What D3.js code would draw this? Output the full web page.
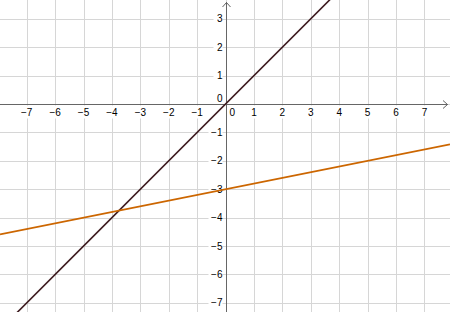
<!DOCTYPE html>
<html><head><meta charset="utf-8">
<script src="https://cdn.jsdelivr.net/npm/d3@7"></script>
<style>html,body{margin:0;padding:0;background:#fff;}svg{display:block;}</style>
</head><body>
<script>
const xTicks = [-7,-6,-5,-4,-3,-2,-1,1,2,3,4,5,6,7];
const yTicks = [-7,-6,-5,-4,-3,-2,-1,1,2,3];
const lineNames = ["f","g"];
const lineSlopes = [1, 0.2];
const lineIntercepts = [0, -3];
const lineColors = ["#3c1a1e", "#cc6600"];

const W = 450, H = 312;
const x = d3.scaleLinear().domain([-7.94, 7.9]).range([0, W]);
const y = d3.scaleLinear().domain([3.66, -7.32]).range([0, H]);
const svg = d3.select("body").append("svg").attr("width", W).attr("height", H);
const fmt = v => v < 0 ? "\u2212" + Math.abs(v) : String(v);
const font = "'Liberation Sans', Arial, sans-serif";

// grid
const gx = d3.range(-7, 8), gy = d3.range(-7, 4);
svg.append("g").selectAll("line").data(gx).join("line")
  .attr("x1", d => Math.round(x(d)) + 0.5).attr("x2", d => Math.round(x(d)) + 0.5)
  .attr("y1", 0).attr("y2", H).attr("stroke", "#d6d6d6").attr("stroke-width", 1);
svg.append("g").selectAll("line").data(gy).join("line")
  .attr("y1", d => Math.round(y(d)) + 0.5).attr("y2", d => Math.round(y(d)) + 0.5)
  .attr("x1", 0).attr("x2", W).attr("stroke", "#d6d6d6").attr("stroke-width", 1);

const X0 = Math.round(x(0)) + 0.5, Y0 = Math.round(y(0)) + 0.5;

// label backgrounds + labels
const lab = svg.append("g").attr("font-family", font).attr("font-size", 10).attr("fill", "#000");
xTicks.forEach(v => {
  const px = x(v);
  const w = fmt(v).length > 1 ? 13 : 8;
  lab.append("rect").attr("x", px - w/2 - 1).attr("y", Y0 + 1).attr("width", w + 2).attr("height", 13).attr("fill", "#fff");
  lab.append("text").attr("x", px).attr("y", Y0 + 11).attr("text-anchor", "middle").text(fmt(v));
});
yTicks.forEach(v => {
  const py = y(v);
  const w = fmt(v).length > 1 ? 13 : 8;
  lab.append("rect").attr("x", X0 - 5 - w).attr("y", py - 6).attr("width", w + 1).attr("height", 12).attr("fill", "#fff");
  lab.append("text").attr("x", X0 - 4).attr("y", py + 3.5).attr("text-anchor", "end").text(fmt(v));
});
lab.append("rect").attr("x", X0 - 11).attr("y", Y0 - 12).attr("width", 9).attr("height", 11).attr("fill", "#fff");
lab.append("text").attr("x", X0 - 4).attr("y", Y0 - 3).attr("text-anchor", "end").text("0");
lab.append("rect").attr("x", X0 + 1).attr("y", Y0 + 1).attr("width", 9).attr("height", 12).attr("fill", "#fff");
lab.append("text").attr("x", X0 + 3).attr("y", Y0 + 11).text("0");

// axes
const ax = svg.append("g").attr("stroke", "#666").attr("stroke-width", 1).attr("fill", "none");
ax.append("line").attr("x1", 0).attr("x2", W - 2).attr("y1", Y0).attr("y2", Y0);
ax.append("line").attr("x1", X0).attr("x2", X0).attr("y1", 2).attr("y2", H);
ax.append("path").attr("d", `M${W-7},${Y0-4}L${W-2.5},${Y0}L${W-7},${Y0+4}`);
ax.append("path").attr("d", `M${X0-4},${7}L${X0},${2.5}L${X0+4},${7}`);

// lines
const xd = x.domain();
lineSlopes.forEach((m, i) => {
  const b = lineIntercepts[i];
  const pts = xd.map(xv => [xv, m * xv + b]);
  svg.append("path")
    .attr("d", d3.line().x(d => x(d[0])).y(d => y(d[1]))(pts))
    .attr("stroke", lineColors[i]).attr("stroke-width", 1.6).attr("fill", "none");
});
</script>
</body></html>
